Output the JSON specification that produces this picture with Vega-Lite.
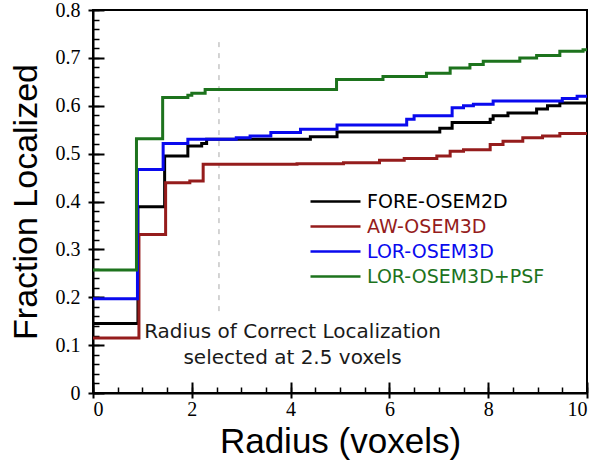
{
  "$schema": "https://vega.github.io/schema/vega-lite/v6.json",
  "width": 494,
  "height": 383,
  "autosize": {"type": "none"},
  "padding": {"left": 93, "top": 10, "right": 13, "bottom": 77},
  "background": "white",
  "config": {
    "view": {"stroke": "black", "strokeWidth": 2},
    "axis": {"grid": false, "domainColor": "black", "tickColor": "black", "labelColor": "black", "titleColor": "black",
      "labelFont": "Liberation Serif", "labelFontSize": 20, "titleFont": "Liberation Sans", "titleFontSize": 35, "titleFontWeight": "normal"}
  },
  "datasets": {
    "curves": [
      {"method": "FORE-OSEM2D", "r": 0, "f": 0.145},
      {"method": "FORE-OSEM2D", "r": 0.91, "f": 0.389},
      {"method": "FORE-OSEM2D", "r": 1.45, "f": 0.495},
      {"method": "FORE-OSEM2D", "r": 1.92, "f": 0.516},
      {"method": "FORE-OSEM2D", "r": 2.2, "f": 0.521},
      {"method": "FORE-OSEM2D", "r": 2.3, "f": 0.53},
      {"method": "FORE-OSEM2D", "r": 4.4, "f": 0.535},
      {"method": "FORE-OSEM2D", "r": 4.94, "f": 0.545},
      {"method": "FORE-OSEM2D", "r": 7.02, "f": 0.553},
      {"method": "FORE-OSEM2D", "r": 7.27, "f": 0.565},
      {"method": "FORE-OSEM2D", "r": 8.04, "f": 0.572},
      {"method": "FORE-OSEM2D", "r": 8.1, "f": 0.579},
      {"method": "FORE-OSEM2D", "r": 8.4, "f": 0.585},
      {"method": "FORE-OSEM2D", "r": 8.98, "f": 0.593},
      {"method": "FORE-OSEM2D", "r": 9.2, "f": 0.6},
      {"method": "FORE-OSEM2D", "r": 9.45, "f": 0.606},
      {"method": "FORE-OSEM2D", "r": 10, "f": 0.606},
      {"method": "AW-OSEM3D", "r": 0, "f": 0.115},
      {"method": "AW-OSEM3D", "r": 0.93, "f": 0.331},
      {"method": "AW-OSEM3D", "r": 1.47, "f": 0.439},
      {"method": "AW-OSEM3D", "r": 1.96, "f": 0.443},
      {"method": "AW-OSEM3D", "r": 2.23, "f": 0.478},
      {"method": "AW-OSEM3D", "r": 4.13, "f": 0.479},
      {"method": "AW-OSEM3D", "r": 5.07, "f": 0.481},
      {"method": "AW-OSEM3D", "r": 5.8, "f": 0.486},
      {"method": "AW-OSEM3D", "r": 6.3, "f": 0.49},
      {"method": "AW-OSEM3D", "r": 6.96, "f": 0.495},
      {"method": "AW-OSEM3D", "r": 7.23, "f": 0.505},
      {"method": "AW-OSEM3D", "r": 7.5, "f": 0.508},
      {"method": "AW-OSEM3D", "r": 8.04, "f": 0.519},
      {"method": "AW-OSEM3D", "r": 8.3, "f": 0.526},
      {"method": "AW-OSEM3D", "r": 8.7, "f": 0.533},
      {"method": "AW-OSEM3D", "r": 9.1, "f": 0.537},
      {"method": "AW-OSEM3D", "r": 9.45, "f": 0.542},
      {"method": "AW-OSEM3D", "r": 10, "f": 0.542},
      {"method": "LOR-OSEM3D", "r": 0, "f": 0.197},
      {"method": "LOR-OSEM3D", "r": 0.9, "f": 0.467},
      {"method": "LOR-OSEM3D", "r": 1.42, "f": 0.521},
      {"method": "LOR-OSEM3D", "r": 1.92, "f": 0.53},
      {"method": "LOR-OSEM3D", "r": 2.9, "f": 0.533},
      {"method": "LOR-OSEM3D", "r": 3.18, "f": 0.537},
      {"method": "LOR-OSEM3D", "r": 3.6, "f": 0.544},
      {"method": "LOR-OSEM3D", "r": 4.2, "f": 0.551},
      {"method": "LOR-OSEM3D", "r": 4.94, "f": 0.56},
      {"method": "LOR-OSEM3D", "r": 6.35, "f": 0.572},
      {"method": "LOR-OSEM3D", "r": 6.5, "f": 0.579},
      {"method": "LOR-OSEM3D", "r": 7.27, "f": 0.596},
      {"method": "LOR-OSEM3D", "r": 7.5, "f": 0.6},
      {"method": "LOR-OSEM3D", "r": 7.7, "f": 0.603},
      {"method": "LOR-OSEM3D", "r": 8.1, "f": 0.61},
      {"method": "LOR-OSEM3D", "r": 9.5, "f": 0.615},
      {"method": "LOR-OSEM3D", "r": 9.8, "f": 0.62},
      {"method": "LOR-OSEM3D", "r": 10, "f": 0.62},
      {"method": "LOR-OSEM3D+PSF", "r": 0, "f": 0.257},
      {"method": "LOR-OSEM3D+PSF", "r": 0.88, "f": 0.531},
      {"method": "LOR-OSEM3D+PSF", "r": 1.41, "f": 0.617},
      {"method": "LOR-OSEM3D+PSF", "r": 1.92, "f": 0.622},
      {"method": "LOR-OSEM3D+PSF", "r": 2.0, "f": 0.626},
      {"method": "LOR-OSEM3D+PSF", "r": 2.27, "f": 0.634},
      {"method": "LOR-OSEM3D+PSF", "r": 4.93, "f": 0.655},
      {"method": "LOR-OSEM3D+PSF", "r": 5.87, "f": 0.661},
      {"method": "LOR-OSEM3D+PSF", "r": 6.75, "f": 0.668},
      {"method": "LOR-OSEM3D+PSF", "r": 7.23, "f": 0.679},
      {"method": "LOR-OSEM3D+PSF", "r": 7.63, "f": 0.686},
      {"method": "LOR-OSEM3D+PSF", "r": 7.9, "f": 0.693},
      {"method": "LOR-OSEM3D+PSF", "r": 8.64, "f": 0.7},
      {"method": "LOR-OSEM3D+PSF", "r": 8.98, "f": 0.705},
      {"method": "LOR-OSEM3D+PSF", "r": 9.45, "f": 0.714},
      {"method": "LOR-OSEM3D+PSF", "r": 9.92, "f": 0.717},
      {"method": "LOR-OSEM3D+PSF", "r": 10, "f": 0.717}
    ],
    "cutoff": [{"r": 2.55, "f": 0.171, "f2": 0.735}],
    "notes": [
      {"r": 4.04, "f": 0.127, "label": "Radius of Correct Localization"},
      {"r": 4.04, "f": 0.073, "label": "selected at 2.5 voxels"}
    ]
  },
  "layer": [
    {
      "data": {"name": "cutoff"},
      "mark": {"type": "rule", "color": "#a8a8a8", "strokeWidth": 1, "strokeDash": [5, 6]},
      "encoding": {
        "x": {"field": "r", "type": "quantitative", "scale": {"domain": [0, 10], "nice": false},
          "axis": {"orient": "bottom", "values": [0,0.5,1,1.5,2,2.5,3,3.5,4,4.5,5,5.5,6,6.5,7,7.5,8,8.5,9,9.5,10], "tickSize": -6, "tickWidth": 1.5, "labels": false, "domain": false, "title": null}},
        "y": {"field": "f", "type": "quantitative", "scale": {"domain": [0, 0.8], "nice": false},
          "axis": {"orient": "left", "values": [0,0.02,0.04,0.06,0.08,0.1,0.12,0.14,0.16,0.18,0.2,0.22,0.24,0.26,0.28,0.3,0.32,0.34,0.36,0.38,0.4,0.42,0.44,0.46,0.48,0.5,0.52,0.54,0.56,0.58,0.6,0.62,0.64,0.66,0.68,0.7,0.72,0.74,0.76,0.78,0.8], "tickSize": -6, "tickWidth": 1.5, "labels": false, "domain": false, "title": null}},
        "y2": {"field": "f2"}
      }
    },
    {
      "data": {"name": "notes"},
      "mark": {"type": "text", "font": "DejaVu Sans", "fontSize": 20, "color": "#1a1a1a", "align": "center", "baseline": "middle"},
      "encoding": {
        "x": {"field": "r", "type": "quantitative",
          "axis": {"orient": "bottom", "values": [0,2,4,6,8,10], "tickSize": -11, "tickWidth": 2, "labels": false, "domain": false, "title": null}},
        "y": {"field": "f", "type": "quantitative",
          "axis": {"orient": "left", "values": [0,0.1,0.2,0.3,0.4,0.5,0.6,0.7,0.8], "tickSize": -11, "tickWidth": 2, "labels": false, "domain": false, "title": null}},
        "text": {"field": "label"}
      }
    },
    {
      "data": {"name": "curves"},
      "mark": {"type": "line", "interpolate": "step-after", "strokeWidth": 3},
      "encoding": {
        "x": {"field": "r", "type": "quantitative",
          "axis": {"orient": "bottom", "title": "Radius (voxels)", "values": [0,2,4,6,8,10], "labels": true, "tickSize": 5, "tickWidth": 2, "domainWidth": 2, "labelPadding": 1, "titlePadding": 5}},
        "y": {"field": "f", "type": "quantitative",
          "axis": {"orient": "left", "title": "Fraction Localized", "values": [0,0.1,0.2,0.3,0.4,0.5,0.6,0.7,0.8], "labels": true, "format": "~g", "tickSize": 5, "tickWidth": 2, "domainWidth": 2, "labelPadding": 8, "titleFontSize": 34, "titlePadding": 12}},
        "color": {
          "field": "method", "type": "nominal",
          "scale": {"domain": ["FORE-OSEM2D", "AW-OSEM3D", "LOR-OSEM3D", "LOR-OSEM3D+PSF"], "range": ["#000000", "#951c1c", "#0a0aee", "#1d731d"]},
          "legend": {
            "title": null, "orient": "none", "legendX": 231, "legendY": 180, "padding": 0,
            "symbolType": "M-2.5,0H2.5", "symbolSize": 400, "symbolStrokeWidth": 2.5, "symbolFillColor": "transparent",
            "labelOffset": 20, "labelFont": "DejaVu Sans", "labelFontSize": 19, "rowPadding": 3, "labelLimit": 300,
            "encode": {"labels": {"update": {"fill": {"signal": "scale('color', datum.value)"}}}}
          }
        }
      }
    }
  ],
  "resolve": {"axis": {"x": "independent", "y": "independent"}}
}
